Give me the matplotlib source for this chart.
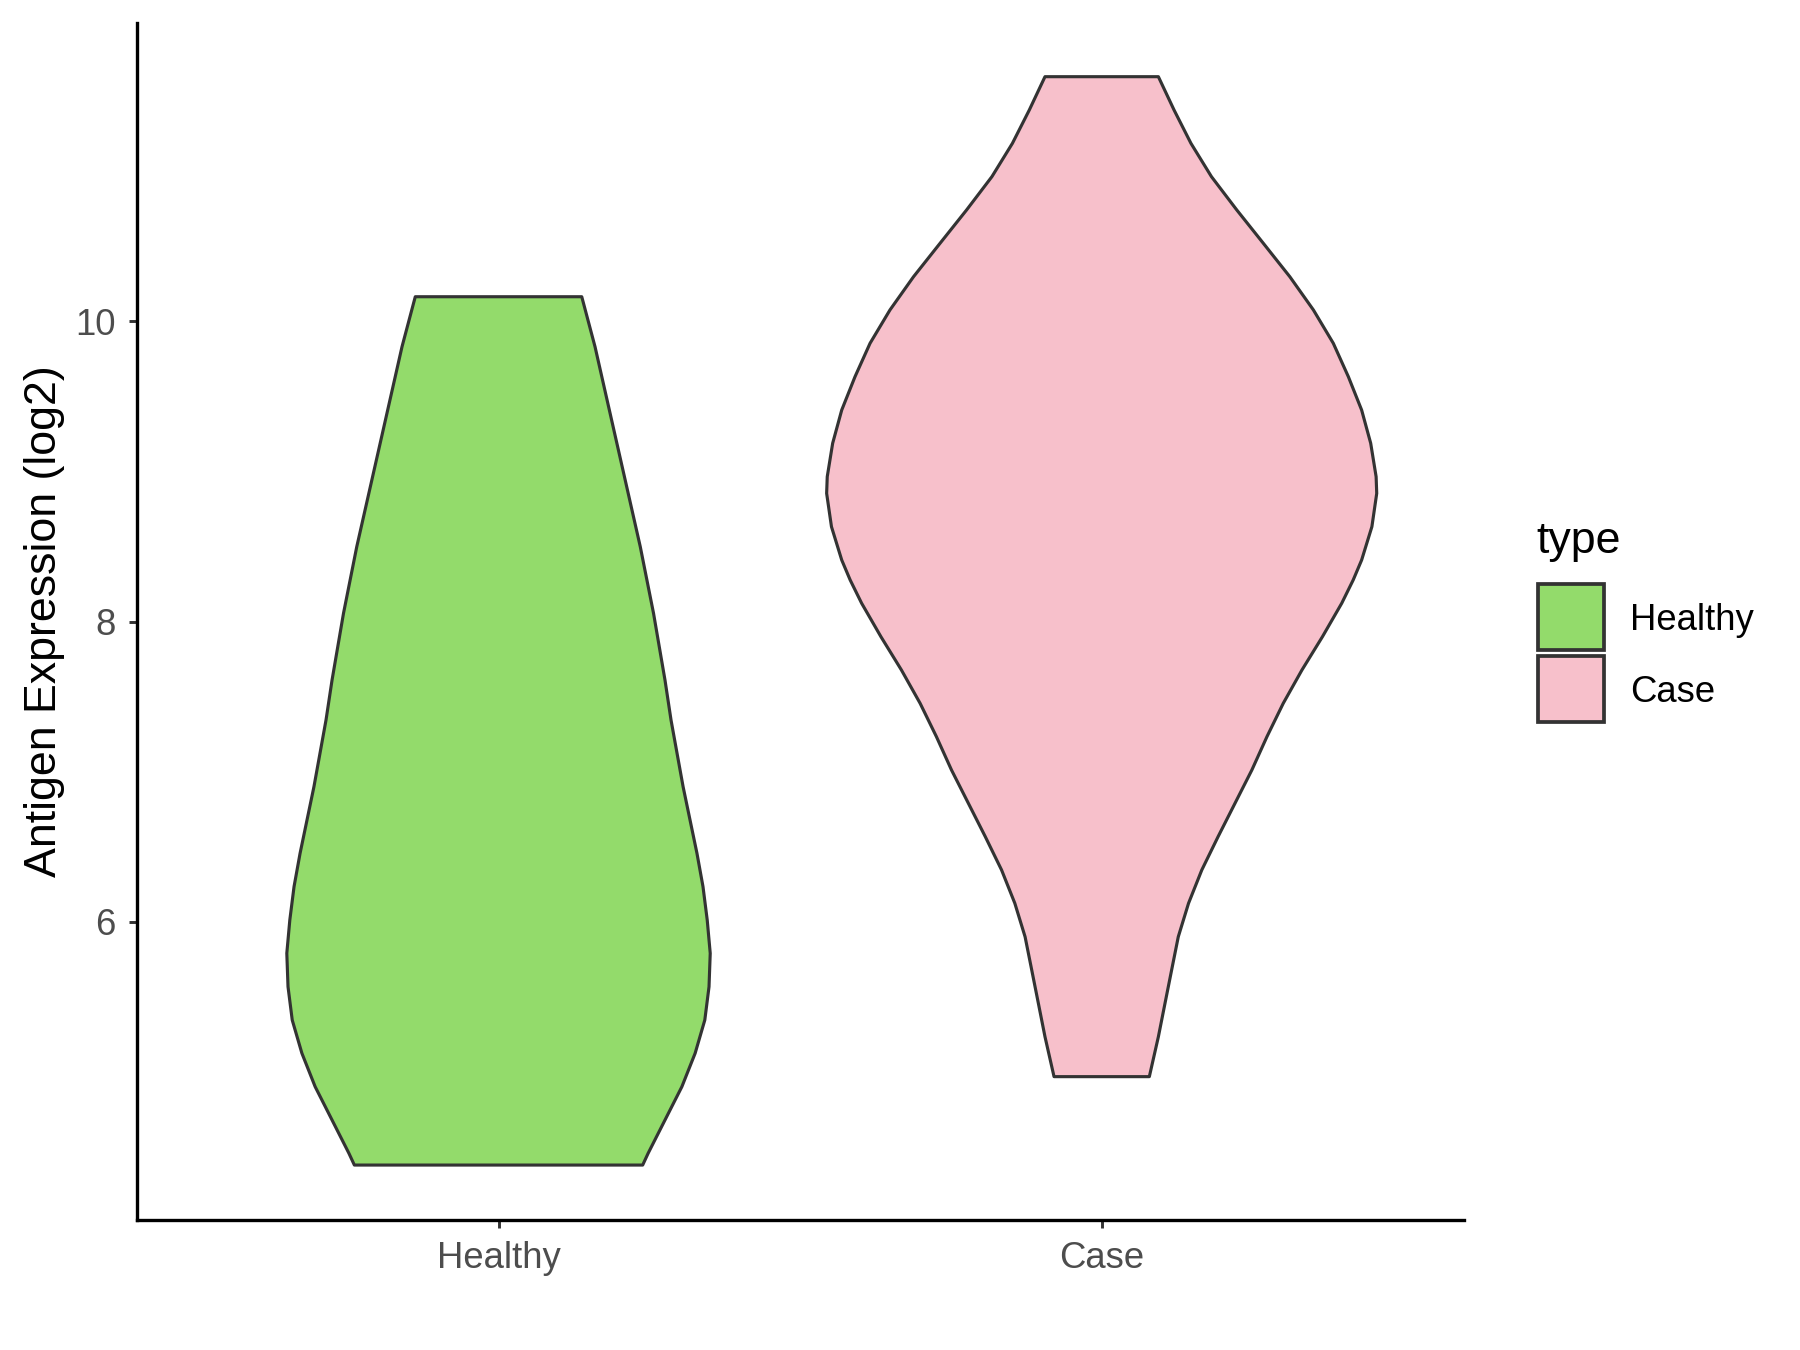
import matplotlib
matplotlib.use("Agg")
import matplotlib.pyplot as plt
from matplotlib.patches import Rectangle

# groups and colours
groups = ["Healthy", "Case"]
colors = ["#93DB6B", "#F7C0CB"]

# violin outlines: expression level and half width (x units)
healthy_y = [10.165, 9.832, 9.388, 8.944, 8.500, 8.056, 7.611, 7.345, 6.901, 6.457,
             6.235, 6.013, 5.791, 5.568, 5.346, 5.125, 4.902, 4.680, 4.458, 4.380]
healthy_w = [0.138, 0.160, 0.185, 0.210, 0.235, 0.257, 0.276, 0.286, 0.306, 0.329,
             0.339, 0.346, 0.351, 0.349, 0.342, 0.326, 0.304, 0.276, 0.248, 0.239]

case_y = [11.631, 11.409, 11.187, 10.965, 10.743, 10.521, 10.298, 10.077, 9.855, 9.632,
          9.410, 9.189, 8.966, 8.855, 8.633, 8.411, 8.278, 8.123, 7.900, 7.678,
          7.456, 7.234, 7.012, 6.790, 6.568, 6.346, 6.124, 5.901, 5.680, 5.458,
          5.235, 4.969]
case_w = [0.094, 0.120, 0.148, 0.182, 0.224, 0.268, 0.312, 0.351, 0.384, 0.409,
          0.431, 0.446, 0.455, 0.456, 0.448, 0.431, 0.417, 0.398, 0.366, 0.332,
          0.301, 0.274, 0.249, 0.221, 0.193, 0.166, 0.144, 0.127, 0.116, 0.105,
          0.094, 0.079]

yticks = [6, 8, 10]
ylabel = "Antigen Expression (log2)"
legend_title = "type"

plt.rcParams['font.family'] = ['Liberation Sans', 'DejaVu Sans']

fig = plt.figure(figsize=(12, 9), dpi=150)
ax = fig.add_axes([0.0759, 0.0963, 0.7372, 0.8867])

profiles = [(healthy_y, healthy_w), (case_y, case_w)]
for i, (ys, ws) in enumerate(profiles):
    pos = i + 1
    xs = [pos + w for w in ws] + [pos - w for w in reversed(ws)]
    yy = list(ys) + list(reversed(ys))
    ax.fill(xs, yy, facecolor=colors[i], edgecolor="#333333", linewidth=1.5,
            joinstyle="round", zorder=2)

ax.set_xlim(0.4, 2.6)
ax.set_ylim(4.014, 11.989)
ax.set_xticks([1, 2])
ax.set_xticklabels(groups)
ax.set_yticks(yticks)
ax.set_yticklabels([str(t) for t in yticks])
ax.tick_params(axis="both", length=4, width=1.4, color="#333333",
               labelsize=17.5, labelcolor="#4D4D4D", pad=6)
ax.set_ylabel(ylabel, fontsize=21.5, labelpad=5)

for side in ["top", "right"]:
    ax.spines[side].set_visible(False)
for side in ["left", "bottom"]:
    ax.spines[side].set_linewidth(1.6)
    ax.spines[side].set_color("black")

# legend drawn by hand on the right
fig.text(0.8535, 1 - 541 / 1350, legend_title, fontsize=21.5, va="center", ha="left")
key_w = 66 / 1800
key_h = 66 / 1350
key_x = 1538 / 1800
key_tops = [584, 656]
for top, c, g in zip(key_tops, colors, groups):
    fig.patches.append(Rectangle((key_x, 1 - (top + 66) / 1350), key_w, key_h,
                                 transform=fig.transFigure, facecolor=c,
                                 edgecolor="#333333", linewidth=1.8))
    fig.text(1630 / 1800, 1 - (top + 36) / 1350, g, fontsize=17.5,
             va="center", ha="left")

fig.savefig("out.png", dpi=150)
